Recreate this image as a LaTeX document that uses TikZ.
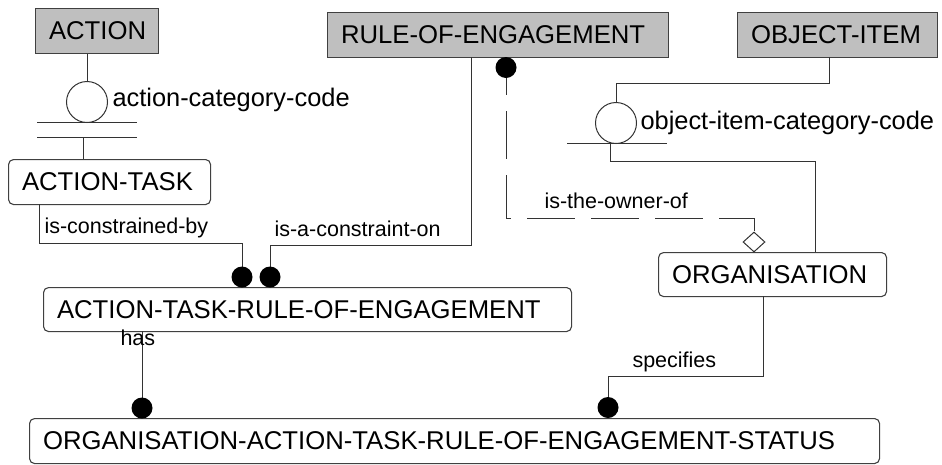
\documentclass[tikz,border=0pt]{standalone}
\usepackage{fontspec}
\setmainfont{Liberation Sans}
\usetikzlibrary{shapes.geometric}
\begin{document}
\begin{tikzpicture}[x=1pt,y=-1pt,
  line width=1pt, draw=black!80,
  ent/.style={draw=black!75, line width=1.1pt, rectangle, anchor=north west, inner xsep=13.5pt, inner ysep=0pt,
    align=left, font=\fontsize{25.7}{28}\selectfont},
  indep/.style={ent, fill=black!25},
  dep/.style={ent, rounded corners=5pt},
  attr/.style={draw=black!80, circle, minimum size=41pt, inner sep=0pt, fill=white},
  dotn/.style={circle, fill=black, minimum size=21pt, inner sep=0pt},
  lbl/.style={anchor=west, inner sep=0pt, font=\fontsize{21.5}{24}\selectfont},
  albl/.style={anchor=west, inner sep=0pt, font=\fontsize{25.4}{28}\selectfont},
  owner/.style={dash pattern=on 48pt off 16pt, dash phase=20pt}
]
\useasboundingbox (0,0) rectangle (942,464);

% entities
\node[indep, minimum width=123pt, minimum height=45pt, text width=96pt] (action) at (35,8) {ACTION};
\node[indep, minimum width=341pt, minimum height=45pt, text width=314pt] (roe) at (327,12) {RULE-OF-ENGAGEMENT};
\node[indep, minimum width=200pt, minimum height=45pt, text width=173pt] (obj) at (737,12) {OBJECT-ITEM};
\node[dep, minimum width=202pt, minimum height=45pt, text width=175pt] (atask) at (8,159) {ACTION-TASK};
\node[dep, minimum width=528pt, minimum height=44pt, text width=501pt] (atre) at (43,287) {ACTION-TASK-RULE-OF-ENGAGEMENT};
\node[dep, minimum width=228pt, minimum height=44pt, text width=201pt] (org) at (658,252) {ORGANISATION};
\node[dep, minimum width=850pt, minimum height=45pt, text width=823pt] (oatroes) at (29,418) {ORGANISATION-ACTION-TASK-RULE-OF-ENGAGEMENT-STATUS};

% named points
\coordinate (abar1w) at (37,122);
\coordinate (abar1e) at (137,122);
\coordinate (abar2w) at (37,137);
\coordinate (abar2e) at (137,137);
\coordinate (aj) at (83,137);
\coordinate (obarw) at (567,143);
\coordinate (obare) at (667,143);
\coordinate (oj) at (610,143);
\coordinate (ojk) at (610,161);
\coordinate (oorg) at (815,252);
\coordinate (oobj) at (829,57);
\coordinate (oobjk) at (829,83);
\coordinate (icb) at (39,204);
\coordinate (icbk) at (39,243);
\coordinate (iac) at (471,57);
\coordinate (iack) at (471,245);
\coordinate (ownk) at (506,218);
\coordinate (sp) at (763,296);
\coordinate (spk) at (763,376);
\coordinate (hs) at (142,331);

% connectors (under the symbols)
\draw (icb) -- (icbk) -| (242,267);
\draw (iac) -- (iack) -| (270,267);
\draw[owner] (506,67) -- (ownk) -| (754,232);
\draw (oobj) -- (oobjk) -| (616,104);
\draw (oj) -- (ojk) -| (oorg);
\draw (sp) -- (spk) -| (608,397);
\draw (hs) -- (142,398);

% attribute circles
\node[attr] (acirc) at (87,102) {};
\node[attr] (ocirc) at (616,123) {};
\draw (acirc.north |- action.south) -- (acirc.north);
\draw (abar1w) -- (abar1e);
\draw (abar2w) -- (abar2e);
\draw (aj) -- (aj |- atask.north);
\draw (obarw) -- (obare);

% relationship ends
\node[dotn] (d1) at (242,277) {};
\node[dotn] (d2) at (270,277) {};
\node[dotn] (d3) at (506,67.5) {};
\node[dotn] (d4) at (608,407.5) {};
\node[dotn] (d5) at (142,408) {};
\node[diamond, draw=black!80, fill=white, minimum width=22pt, minimum height=20pt, inner sep=0pt] (diam) at (754,242) {};

% labels
\node[albl] (lacc) at (112,100) {action-category-code};
\node[albl] (locc) at (640,123) {object-item-category-code};
\node[lbl] (licb) at (44,228) {is-constrained-by};
\node[lbl] (liac) at (274,229) {is-a-constraint-on};
\node[lbl] (lown) at (544,201) {is-the-owner-of};
\node[lbl] (lsp) at (632,362) {specifies};
\node[lbl] (lhas) at (120,338) {has};
\end{tikzpicture}
\end{document}
